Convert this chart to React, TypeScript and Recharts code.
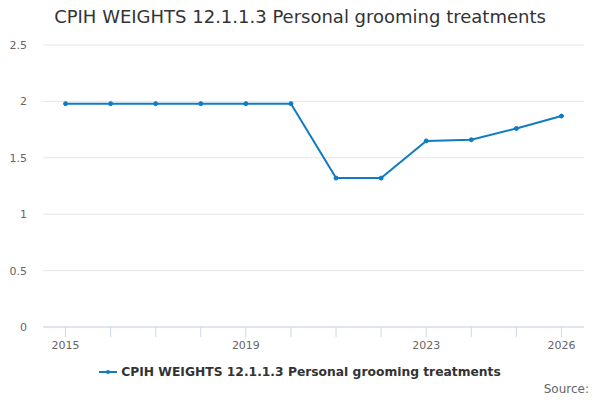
import { LineChart, Line, XAxis, YAxis, CartesianGrid } from 'recharts';

const years = [2015, 2016, 2017, 2018, 2019, 2020, 2021, 2022, 2023, 2024, 2025, 2026];
const weights = [1.98, 1.98, 1.98, 1.98, 1.98, 1.98, 1.32, 1.32, 1.65, 1.66, 1.76, 1.87];
const labelledYears = [2015, 2019, 2023, 2026];
const yTicks = [0, 0.5, 1, 1.5, 2, 2.5];

const seriesName = 'CPIH WEIGHTS 12.1.1.3 Personal grooming treatments';
const lineColor = '#0f7cc2';
const font = '"DejaVu Sans", sans-serif';

const data = years.map((year, i) => ({ year, value: weights[i] }));

export default function App() {
  return (
    <div style={{ position: 'absolute', left: 0, top: 0, width: 600, height: 400, fontFamily: font, background: '#fff' }}>
      <div
        style={{
          position: 'absolute',
          top: 6,
          width: 600,
          textAlign: 'center',
          fontSize: 18,
          color: '#333',
        }}
      >
        {seriesName}
      </div>
      <LineChart width={600} height={400} data={data} margin={{ top: 45, right: 16, bottom: 43, left: 0 }}>
        <CartesianGrid vertical={false} stroke="#e6e6e6" />
        <XAxis
          dataKey="year"
          type="number"
          domain={[2014.5, 2026.5]}
          ticks={years}
          interval={0}
          tickFormatter={(v) => (labelledYears.includes(v) ? String(v) : '')}
          axisLine={{ stroke: '#ccd6eb' }}
          tickLine={{ stroke: '#ccd6eb' }}
          tickSize={10}
          tickMargin={4}
          tick={{ fontSize: 11, fill: '#666', fontFamily: font }}
        />
        <YAxis
          domain={[0, 2.5]}
          ticks={yTicks}
          width={43}
          axisLine={false}
          tickLine={false}
          tickSize={0}
          tickMargin={16}
          tick={{ fontSize: 11, fill: '#666', fontFamily: font }}
        />
        <Line
          type="linear"
          dataKey="value"
          name={seriesName}
          stroke={lineColor}
          strokeWidth={2}
          dot={{ r: 2, fill: lineColor, stroke: lineColor, strokeWidth: 1 }}
          activeDot={false}
          isAnimationActive={false}
        />
      </LineChart>
      <div
        style={{
          position: 'absolute',
          top: 365,
          width: 600,
          display: 'flex',
          justifyContent: 'center',
          alignItems: 'center',
          fontSize: 12.3,
          fontWeight: 'bold',
          color: '#333',
        }}
      >
        <svg width={18} height={10} style={{ marginRight: 4 }}>
          <line x1={0} y1={5} x2={18} y2={5} stroke={lineColor} strokeWidth={2} />
          <circle cx={9} cy={5} r={2} fill={lineColor} />
        </svg>
        <span>{seriesName}</span>
      </div>
      <div style={{ position: 'absolute', top: 382, right: 11, fontSize: 12, color: '#666' }}>Source:</div>
    </div>
  );
}
